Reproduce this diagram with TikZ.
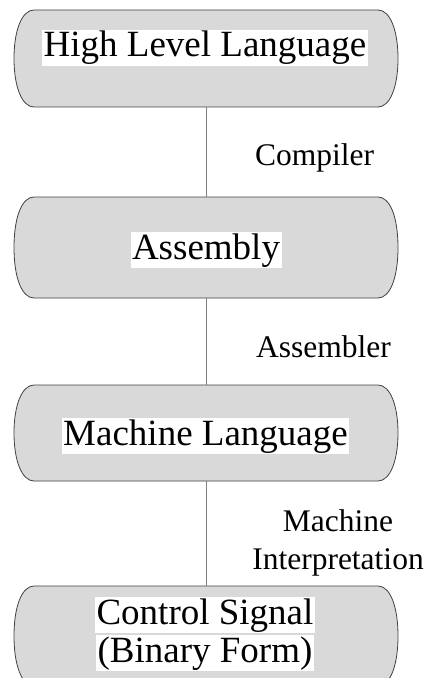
\documentclass[tikz,border=0pt]{standalone}
\usepackage{fontspec}
\setmainfont{Liberation Serif}
\usetikzlibrary{fit}

\definecolor{capfill}{HTML}{D9D9D9}
\definecolor{capline}{HTML}{404040}
\definecolor{linkgray}{HTML}{808080}

\tikzset{
  capsule/.style={fill=capfill, draw=capline, line width=0.8bp},
  hilite/.style={fill=white, inner xsep=1.5bp, inner ysep=0bp,
    text height=26.8bp, text depth=8.8bp,
    font=\fontsize{37bp}{40bp}\selectfont},
  steplabel/.style={font=\fontsize{31.5bp}{38bp}\selectfont, align=center, inner sep=0bp},
  link/.style={draw=linkgray, line width=0.9bp},
}

% Flat-topped box with bulging sides: #1 name, #2 top y, #3 bottom y
\newcommand\capsulebox[3]{%
  \path[capsule] (34,#2) -- (378,#2)
    .. controls (390,#2) and (398,{#2+20}) .. (398,{(#2+#3)/2})
    .. controls (398,{#3-20}) and (390,#3) .. (378,#3)
    -- (34,#3)
    .. controls (22,#3) and (14,{#3-20}) .. (14,{(#2+#3)/2})
    .. controls (14,{#2+20}) and (22,#2) .. cycle;
  \node[fit={(14,#2) (398,#3)}, inner sep=0bp, draw=none] (#1) {};
}

\begin{document}
\begin{tikzpicture}[x=1bp, y=-1bp]
  \useasboundingbox (0,0) rectangle (430,678);
  \clip (0,0) rectangle (430,678);

  % the four stages
  \capsulebox{hll}{10}{107}
  \capsulebox{asm}{197}{298}
  \capsulebox{mach}{385}{481}
  \capsulebox{ctrl}{586}{686}

  % connectors between stages
  \draw[link] (hll.south) -- (asm.north);
  \draw[link] (asm.south) -- (mach.north);
  \draw[link] (mach.south) -- (ctrl.north);

  % stage names
  \node[hilite] (thll) at (205,48) {High Level Language};
  \node[hilite] (tasm) at (206,250) {Assembly};
  \node[hilite] (tmach) at (205.5,436) {Machine Language};
  \node[hilite] (tctrl1) at (205,615) {Control Signal};
  \node[hilite] (tctrl2) at (205,653) {(Binary Form)};

  % translation steps
  \node[steplabel, anchor=base] (lcomp) at (314.5,165) {Compiler};
  \node[steplabel, anchor=base] (lasm) at (323.5,357) {Assembler};
  \node[steplabel] (linterp) at (338,543) {Machine\\Interpretation};
\end{tikzpicture}
\end{document}
